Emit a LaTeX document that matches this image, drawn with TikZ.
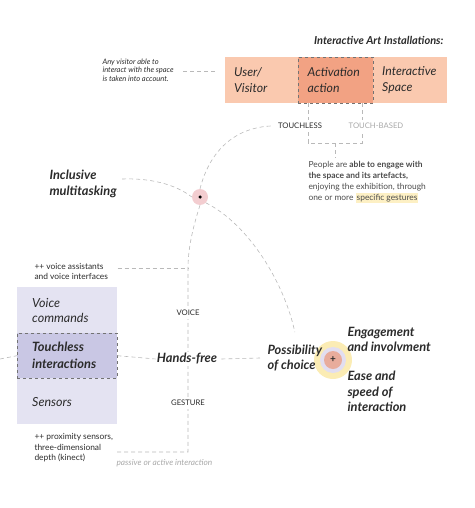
\documentclass[tikz,border=0pt]{standalone}
\usepackage{fontspec}
\setmainfont{Lato}
\usetikzlibrary{positioning}
\definecolor{salmon}{HTML}{FAC9AF}
\definecolor{salmondark}{HTML}{F2A283}
\definecolor{lilac}{HTML}{E4E3F2}
\definecolor{lilacdark}{HTML}{C9C7E4}
\definecolor{ink}{HTML}{2B2B2B}
\definecolor{faint}{HTML}{A8A8A8}
\definecolor{halo}{HTML}{F3CDD0}
\definecolor{sun}{HTML}{FBECB4}
\definecolor{lav}{HTML}{E2DEF0}
\definecolor{core}{HTML}{E8AC9C}
\definecolor{hilite}{HTML}{FDF0C4}
\setlength{\fboxsep}{1pt}
\begin{document}
\begin{tikzpicture}[x=1pt, y=-1pt, text=ink,
    link/.style = {draw=gray!55, dash pattern=on 4pt off 3pt, line width=0.6pt},
    band/.style = {anchor=north west, minimum width=74pt, minimum height=46pt, inner xsep=9pt, text width=56pt, align=left, font=\itshape\fontsize{12.3}{16}\selectfont},
    panelbox/.style = {anchor=north west, minimum width=100pt, inner xsep=15pt, text width=70pt, align=left},
    big/.style = {font=\bfseries\itshape\fontsize{12.8}{15.5}\selectfont, align=left},
    small/.style = {font=\fontsize{7.7}{9}\selectfont},
    note/.style = {font=\fontsize{8.4}{10.8}\selectfont, align=left},
    dot/.style = {circle, inner sep=0pt}]
  \useasboundingbox (0,0) rectangle (474,508);

  % top row
  \node[font=\bfseries\itshape\fontsize{11}{12}\selectfont, anchor=east] (title) at (447,40) {Interactive Art Installations:};
  \node[band, fill=salmon] (user) at (225,57) {User/\\Visitor};
  \node[band, fill=salmon] (space) at (373,57) {Interactive\\Space};
  \node[band, fill=salmondark, draw=gray!90!black, dashed, minimum width=75pt] (activation) at (298,57) {Activation\\action};
  \node[font=\itshape\fontsize{7.5}{8.5}\selectfont, align=left, anchor=north west] (visitor) at (99,55) {Any visitor able to\\interact with the space\\is taken into account.};
  \draw[link] ([xshift=6pt,yshift=-1pt]visitor.east) -- ([xshift=-10pt,yshift=-1pt]user.west |- visitor.east);

  \node[small] (touchless) at (300,126) {TOUCHLESS};
  \node[small, text=faint] (touchbased) at (376,126) {TOUCH-BASED};
  \coordinate (tl) at (308,143);
  \coordinate (tb) at (362,143);
  \coordinate (mid) at (335,143);
  \node[note, anchor=north west, text=ink!85] (people) at (305,158) {People are \textbf{able to engage with}\\\textbf{the space and its artefacts,}\\enjoying the exhibition, through\\one or more \colorbox{hilite}{specific gestures}};
  \draw[link] (activation.south -| tl) -- (touchless.north -| tl);
  \draw[link] (activation.south -| tb) -- (touchbased.north -| tb);
  \draw[link] (touchless.south -| tl) -- (tl) -- (tb) -- (touchbased.south -| tb);
  \draw[link] (mid) -- (people.north -| mid);

  % hub
  \node[dot, fill=halo, minimum size=16pt] (hub) at (200,197) {};
  \node[dot, fill=black, minimum size=3.5pt] (hubdot) at (hub) {};
  \node[big, anchor=west] (inclusive) at (46,184) {Inclusive\\multitasking};
  \draw[link] ([xshift=2pt,yshift=5pt]inclusive.east) .. controls (150,178) and (175,184) .. (hub.west);
  \draw[link] ([xshift=-4pt]touchless.west) .. controls (235,128) and (210,150) .. (hub.north);

  % panel
  \node[panelbox, fill=lilac, minimum height=137pt] (panel) at (17,287) {};
  \node[panelbox, anchor=west, font=\itshape\fontsize{12.5}{15}\selectfont] (voicecmd) at (17,310.5) {Voice\\commands};
  \node[panelbox, fill=lilacdark, draw=gray!90!black, dashed, minimum height=45pt, font=\bfseries\itshape\fontsize{12.8}{17}\selectfont] (touchbox) at (17,333) {Touchless\\interactions};
  \node[panelbox, anchor=west, font=\itshape\fontsize{12.5}{15}\selectfont] (sensors) at (17,402) {Sensors};
  \coordinate (edge) at (0,359);
  \draw[link] (edge) -- (touchbox.west);

  \node[note, anchor=west] (assist) at (31,271.5) {++ voice assistants\\and voice interfaces};
  \node[note, anchor=north west, font=\fontsize{8.4}{10.5}\selectfont] (proximity) at (31,430) {++ proximity sensors,\\three-dimensional\\depth (kinect)};
  \node[anchor=west, font=\itshape\fontsize{8.3}{9}\selectfont, text=faint] (passive) at (113,463) {passive or active interaction};

  % vertical branch
  \coordinate (bend) at (188,268);
  \coordinate (foot) at (188,452);
  \coordinate (tail) at (117,452);
  \draw[link] (hub.south) .. controls (192,230) and (188,250) .. (bend) -- (foot) -- (tail);
  \draw[link] ([xshift=6pt,yshift=3.5pt]assist.east) -- (bend);
  \node[small, fill=white] (voice) at (188,313) {VOICE};
  \node[small, fill=white] (gesture) at (188,403) {GESTURE};
  \node[big, fill=white, inner sep=1pt] (handsfree) at (187,359) {Hands-free};

  % choice
  \node[dot, fill=sun, minimum size=38pt] (choicehub) at (333,360) {};
  \node[dot, fill=lav, minimum size=26pt] (ring) at (choicehub) {};
  \node[dot, fill=core, minimum size=18pt, font=\bfseries\fontsize{10}{10}\selectfont] (plus) at (choicehub) {+};
  \node[big, anchor=west] (choice) at (264,358) {Possibility\\of choice};
  \node[big, anchor=west] (engage) at (344,339.5) {Engagement\\and involvment};
  \node[big, anchor=west] (ease) at (344,391.5) {Ease and\\speed of\\interaction};
  \draw[link] (touchbox.east) -- (handsfree.west);
  \draw[link] ([xshift=3pt]handsfree.east) -- ([xshift=-4pt]choice.west);
  \draw[link] (hub.south east) .. controls (250,225) and (285,285) .. ([yshift=9pt]choice.north);
\end{tikzpicture}
\end{document}
